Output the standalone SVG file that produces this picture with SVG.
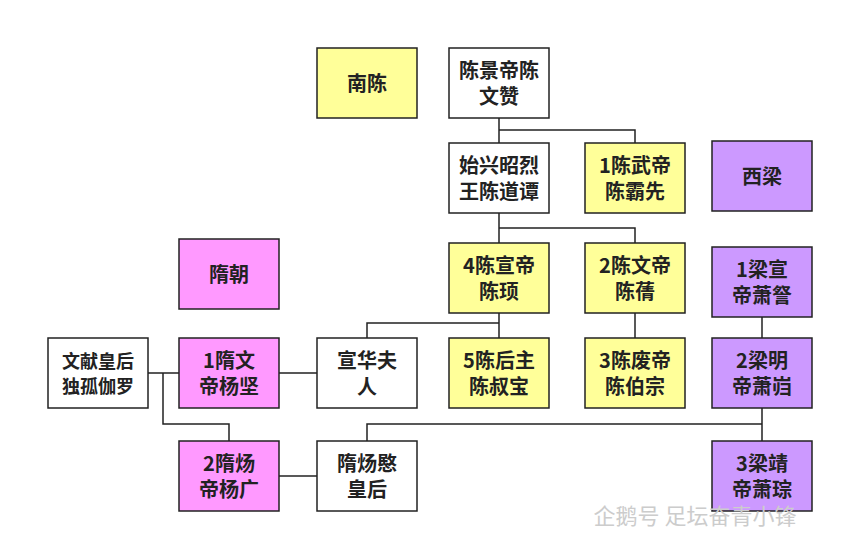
<svg xmlns="http://www.w3.org/2000/svg" width="844" height="544" viewBox="0 0 844 544">
<style>
rect{stroke:#222;stroke-width:1.5}
.w{fill:#fff}.y{fill:#FFFF99}.p{fill:#CC99FF}.k{fill:#FF99FF}
text{font-family:"Noto Sans CJK SC","Noto Sans",sans-serif;font-size:20px;font-weight:bold;fill:#222;text-anchor:middle}
#connectors path{fill:none;stroke:#222;stroke-width:1.5}
</style>
<rect width="844" height="544" fill="#fff" style="stroke:none"/>
<g id="connectors">
<path d="M499 118V130M499 130H635V143M499 130V143"/>
<path d="M499 213V228H635V243M499 228V243"/>
<path d="M499 313V338M367 338V323H499"/>
<path d="M635 313V338"/>
<path d="M762 317V338"/>
<path d="M762 408V441M367 441V424H762"/>
<path d="M148 373H179M279 373H317"/>
<path d="M163 373V424H229V441"/>
<path d="M279 476H317"/>
</g>
<g id="nanchen"><rect class="y" x="317" y="48" width="100" height="70"/><text x="367" y="91">南陈</text></g>
<g id="jingdi"><rect class="w" x="449" y="48" width="100" height="70"/><text x="499" y="78">陈景帝陈</text><text x="499" y="104">文赞</text></g>
<g id="daotan"><rect class="w" x="449" y="143" width="100" height="70"/><text x="499" y="173">始兴昭烈</text><text x="499" y="199">王陈道谭</text></g>
<g id="wudi"><rect class="y" x="585" y="143" width="100" height="70"/><text x="635" y="173">1陈武帝</text><text x="635" y="199">陈霸先</text></g>
<g id="xiliang"><rect class="p" x="712" y="141" width="100" height="70"/><text x="762" y="184">西梁</text></g>
<g id="suichao"><rect class="k" x="179" y="239" width="100" height="70"/><text x="229" y="282">隋朝</text></g>
<g id="xuandi"><rect class="y" x="449" y="243" width="100" height="70"/><text x="499" y="273">4陈宣帝</text><text x="499" y="299">陈顼</text></g>
<g id="wendi"><rect class="y" x="585" y="243" width="100" height="70"/><text x="635" y="273">2陈文帝</text><text x="635" y="299">陈蒨</text></g>
<g id="liangxuan"><rect class="p" x="712" y="247" width="100" height="70"/><text x="762" y="277">1梁宣</text><text x="762" y="303">帝萧詧</text></g>
<g id="dugu"><rect class="w" x="48" y="338" width="100" height="70"/><text x="98" y="368" style="font-size:18px">文献皇后</text><text x="98" y="393" style="font-size:18px">独孤伽罗</text></g>
<g id="yangjian"><rect class="k" x="179" y="338" width="100" height="70"/><text x="229" y="368">1隋文</text><text x="229" y="394">帝杨坚</text></g>
<g id="xuanhua"><rect class="w" x="317" y="338" width="100" height="70"/><text x="367" y="368">宣华夫</text><text x="367" y="394">人</text></g>
<g id="houzhu"><rect class="y" x="449" y="338" width="100" height="70"/><text x="499" y="368">5陈后主</text><text x="499" y="394">陈叔宝</text></g>
<g id="feidi"><rect class="y" x="585" y="338" width="100" height="70"/><text x="635" y="368">3陈废帝</text><text x="635" y="394">陈伯宗</text></g>
<g id="liangming"><rect class="p" x="712" y="338" width="100" height="70"/><text x="762" y="368">2梁明</text><text x="762" y="394">帝萧岿</text></g>
<g id="yangguang"><rect class="k" x="179" y="441" width="100" height="70"/><text x="229" y="471">2隋炀</text><text x="229" y="497">帝杨广</text></g>
<g id="minhuanghou"><rect class="w" x="317" y="441" width="100" height="70"/><text x="367" y="471">隋炀愍</text><text x="367" y="497">皇后</text></g>
<g id="liangjing"><rect class="p" x="712" y="441" width="100" height="70"/><text x="762" y="471">3梁靖</text><text x="762" y="497">帝萧琮</text></g>
<text x="695" y="524" style="font-size:22px;font-weight:normal;fill:#ccc">企鹅号 足坛奋青小锋</text>
</svg>
